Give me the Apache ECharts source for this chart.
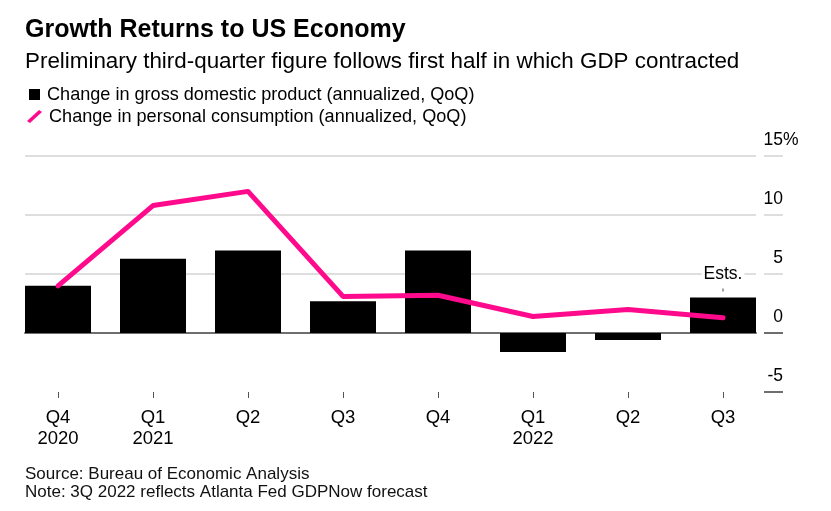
<!DOCTYPE html>
<html>
<head>
<meta charset="utf-8">
<script src="https://cdn.jsdelivr.net/npm/echarts@6/dist/echarts.min.js"></script>
<style>
  html, body { margin: 0; padding: 0; background: #fff; }
  #chart { width: 831px; height: 511px; }
</style>
</head>
<body>
<div id="chart"></div>
<script>
const categories = ['Q4\n2020', 'Q1\n2021', 'Q2', 'Q3', 'Q4', 'Q1\n2022', 'Q2', 'Q3'];
const gdpChange = [4.0, 6.3, 7.0, 2.7, 7.0, -1.6, -0.6, 3.0];
const consumptionChange = [4.0, 10.8, 12.0, 3.1, 3.2, 1.4, 2.0, 1.3];
const yTickValues = [-5, 0, 5, 10, 15];
const yTickLabels = ['-5', '0', '5', '10', '15'];
const estimateIndex = 7;
const estimateLabel = 'Ests.';
const titleText = 'Growth Returns to US Economy';
const subtitleText = 'Preliminary third-quarter figure follows first half in which GDP contracted';
const gdpName = 'Change in gross domestic product (annualized, QoQ)';
const pceName = 'Change in personal consumption (annualized, QoQ)';
const footnoteText = 'Source: Bureau of Economic Analysis\nNote: 3Q 2022 reflects Atlanta Fed GDPNow forecast';

const FONT = '"Liberation Sans", Arial, Helvetica, sans-serif';
const PINK = '#ff0a8c';

const gdpData = gdpChange.map((v, i) => {
  if (i !== estimateIndex) return v;
  return {
    value: v,
    label: {
      show: true,
      position: 'top',
      distance: 6,
      formatter: '{t|' + estimateLabel + '}\n{k|}',
      rich: {
        t: { fontFamily: FONT, fontSize: 17.5, color: '#000', lineHeight: 19,
             backgroundColor: '#fff', padding: [0, 2, 10, 2], align: 'center' },
        k: { width: 1, height: 3, lineHeight: 3, backgroundColor: '#444', align: 'center' }
      }
    }
  };
});

const chart = echarts.init(document.getElementById('chart'), null, { renderer: 'canvas' });
chart.setOption({
  animation: false,
  backgroundColor: '#fff',
  textStyle: { fontFamily: FONT },
  title: [
    { text: titleText, left: 25, top: 18, padding: 0,
      textStyle: { fontFamily: FONT, fontSize: 25, fontWeight: 'bold', color: '#000' } },
    { text: subtitleText, left: 25, top: 51, padding: 0,
      textStyle: { fontFamily: FONT, fontSize: 22.4, fontWeight: 'normal', color: '#000' } },
    { text: footnoteText, left: 25, top: 465, padding: 0,
      textStyle: { fontFamily: FONT, fontSize: 17, fontWeight: 'normal', color: '#111', lineHeight: 18 } }
  ],
  legend: [
    { data: [{ name: gdpName, icon: 'rect' }], left: 29, top: 85.5, padding: 0,
      itemWidth: 11, itemHeight: 11, orient: 'vertical', selectedMode: false,
      textStyle: { fontFamily: FONT, fontSize: 18.1, color: '#000', padding: [0, 0, 0, 2] } },
    { data: [{ name: pceName, icon: 'path://M0,11 L12,0 L15,2 L3,13 Z' }], left: 27, top: 107.5, padding: 0,
      itemWidth: 15, itemHeight: 13, orient: 'vertical', selectedMode: false,
      itemStyle: { color: PINK },
      textStyle: { fontFamily: FONT, fontSize: 18.1, color: '#000', padding: [0, 0, 0, 2] } }
  ],
  grid: [
    { left: 10.5, top: 156, width: 760, height: 236, containLabel: false },
    { left: 25, top: 156, width: 731, height: 236, containLabel: false }
  ],
  xAxis: [
    { gridIndex: 0, type: 'category', data: categories, boundaryGap: true,
      axisLine: { show: false, onZero: false },
      axisTick: { show: true, alignWithLabel: true, length: 6, lineStyle: { color: '#555', width: 1 } },
      axisLabel: { fontFamily: FONT, fontSize: 18.5, color: '#000', lineHeight: 20.5, margin: 16, interval: 0 },
      splitLine: { show: false } },
    { gridIndex: 1, type: 'category', data: categories, boundaryGap: true,
      axisLine: { show: true, onZero: true, lineStyle: { color: '#6e6e6e', width: 2 } },
      axisTick: { show: false }, axisLabel: { show: false }, splitLine: { show: false } }
  ],
  yAxis: [
    { gridIndex: 0, type: 'value', min: -5, max: 15, interval: 5, show: false },
    { gridIndex: 1, type: 'value', min: -5, max: 15, interval: 5, position: 'right', offset: 8,
      axisLine: { show: false },
      axisTick: { show: true, length: 19, customValues: [5, 10, 15], lineStyle: { color: '#dedede', width: 2 } },
      splitLine: { show: true, lineStyle: { color: '#dedede', width: 2 } },
      axisLabel: { show: true, customValues: yTickValues, align: 'right', margin: 19,
        verticalAlign: 'bottom', padding: [0, 0, 7, 0], fontFamily: FONT, fontSize: 17.5, color: '#000',
        formatter: (v) => yTickLabels[yTickValues.indexOf(v)] } },
    { gridIndex: 1, type: 'value', min: -5, max: 15, interval: 5, position: 'right', offset: 8,
      axisLine: { show: false },
      axisTick: { show: true, length: 19, customValues: [-5, 0], lineStyle: { color: '#6e6e6e', width: 2 } },
      splitLine: { show: false },
      axisLabel: { show: true, customValues: [15], align: 'left', margin: 19,
        verticalAlign: 'bottom', padding: [0, 0, 7, 0], fontFamily: FONT, fontSize: 17.5, color: '#000',
        formatter: () => '%' } }
  ],
  series: [
    { name: gdpName, type: 'bar', xAxisIndex: 0, yAxisIndex: 0, data: gdpData,
      barWidth: 66, itemStyle: { color: '#000' }, z: 2 },
    { name: pceName, type: 'line', xAxisIndex: 0, yAxisIndex: 0, data: consumptionChange,
      symbol: 'none', z: 4,
      lineStyle: { color: PINK, width: 5, cap: 'round', join: 'round' },
      itemStyle: { color: PINK } }
  ]
});
</script>
</body>
</html>
